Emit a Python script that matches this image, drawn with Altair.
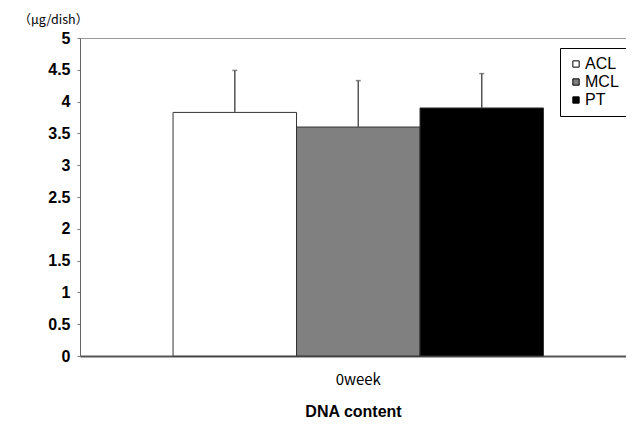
import altair as alt
import pandas as pd

groups = ["ACL", "MCL", "PT"]
weeks = ["0week", "0week", "0week"]
means = [3.83, 3.60, 3.90]
sds = [0.66, 0.73, 0.54]
colors = ["#ffffff", "#808080", "#000000"]
yticks = [0, 0.5, 1, 1.5, 2, 2.5, 3, 3.5, 4, 4.5, 5]

df = pd.DataFrame({"week": weeks, "group": groups, "mean": means, "sd": sds})
df["upper"] = df["mean"] + df["sd"]

xscale = alt.Scale(paddingInner=0, paddingOuter=0.237, align=0.53)
x = alt.X("week:N", scale=xscale,
          axis=alt.Axis(title="DNA content", labelAngle=0, ticks=False,
                        labelFont="Noto Sans CJK JP", labelFontSize=15,
                        labelColor="#000", labelPadding=16,
                        titleFont="Liberation Sans", titleFontSize=16,
                        titleFontWeight="bold", titleColor="#000", titlePadding=16,
                        domainColor="#555", domainWidth=2))
xo = alt.XOffset("group:N", scale=alt.Scale(domain=groups, paddingInner=0, paddingOuter=0))
yscale = alt.Scale(domain=[0, 5])
yaxis = alt.Axis(values=yticks, labelOverlap=False,
                 format="~g", grid=False, tickSize=3, tickColor="#777",
                 domainColor="#666", labelPadding=7,
                 labelFont="Liberation Sans", labelFontSize=16,
                 labelFontWeight="bold", labelColor="#000",
                 title="（μg/dish）", titleAngle=0, titleAlign="left",
                 titleBaseline="middle", titleX=-62, titleY=-19,
                 titleFont="Noto Sans CJK JP", titleFontSize=12.5,
                 titleFontWeight="normal", titleColor="#000")

base = alt.Chart(df)

bars = base.mark_bar(stroke="#333", strokeWidth=1).encode(
    x=x,
    xOffset=xo,
    y=alt.Y("mean:Q", scale=yscale, axis=yaxis),
    fill=alt.Fill("group:N", scale=alt.Scale(domain=groups, range=colors),
                  legend=alt.Legend(title=None, orient="none", legendX=480, legendY=10,
                                    symbolType="square", symbolSize=40,
                                    symbolStrokeColor="#000", symbolStrokeWidth=1,
                                    labelFont="Liberation Sans", labelFontSize=16,
                                    labelColor="#000", labelOffset=1,
                                    rowPadding=2, padding=8,
                                    strokeColor="#000", fillColor="#fff")),
)

rules = base.mark_rule(color="#555", strokeWidth=1.5).encode(
    x=x, xOffset=xo,
    y=alt.Y("mean:Q", scale=yscale, axis=yaxis),
    y2="upper:Q",
)
caps = base.mark_tick(color="#555", thickness=1.5, size=5).encode(
    x=x, xOffset=xo,
    y=alt.Y("upper:Q", scale=yscale, axis=yaxis),
)

chart = (bars + rules + caps).properties(
    width=546, height=318,
    autosize=alt.AutoSizeParams(type="none"),
    padding={"left": 72, "top": 30, "right": 0, "bottom": 70},
).configure_view(stroke="#999", strokeWidth=1)

chart.save("out.html", embed_options={"renderer": "svg", "actions": False})
